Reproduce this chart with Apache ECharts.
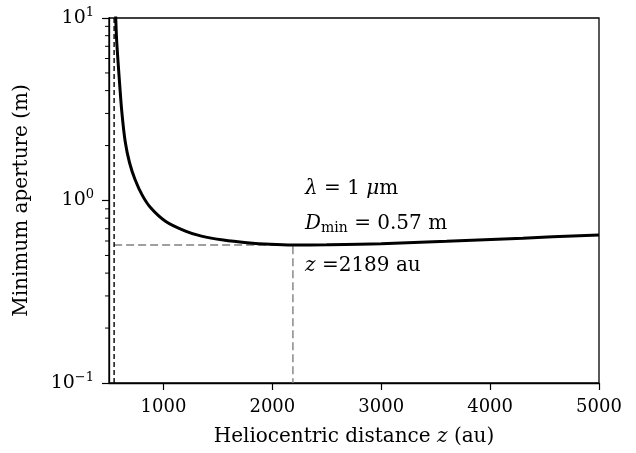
<!DOCTYPE html>
<html>
<head>
<meta charset="utf-8">
<script src="https://cdn.jsdelivr.net/npm/echarts@6/dist/echarts.min.js"></script>
<style>
  html, body { margin: 0; padding: 0; background: #fff; }
  #chart { width: 636px; height: 453px; }
</style>
</head>
<body>
<div id="chart"></div>
<script>
// heliocentric distance (au) and minimum aperture (m)
var zValues = [556, 562, 570, 581, 596, 617, 649, 690, 740, 805, 881, 1018, 1202, 1349, 1550, 1768, 1980, 2189, 2500, 3000, 3600, 4300, 5000]
var dValues = [13.0, 9.9, 7.6, 6.0, 4.5, 3.1, 2.1, 1.6, 1.3, 1.07, 0.915, 0.77, 0.68, 0.638, 0.607, 0.587, 0.575, 0.570, 0.572, 0.580, 0.598, 0.622, 0.648]

var xTickValues = [1000, 2000, 3000, 4000, 5000]
var yMinorTicks = [0.2, 0.3, 0.4, 0.5, 0.6, 0.7, 0.8, 0.9, 2, 3, 4, 5, 6, 7, 8, 9]

var focalZ = 547 // focal line of the solar lens
var optimalZ = 2189
var minAperture = 0.57

var xMin = 500, xMax = 5000, yMin = 0.1, yMax = 10

var serif = '"DejaVu Serif", "Liberation Serif", serif'
var fs = 20      // titles and notes
var tickFs = 18  // tick labels
var chart = echarts.init(document.getElementById('chart'))

function curveData() {
  var out = []
  for (var i = 0; i < zValues.length; i++) out.push([zValues[i], dValues[i]])
  return out
}

function richText(extra) {
  var r = {
    r: { fontFamily: serif, fontSize: fs, fill: '#000', color: '#000' },
    i: { fontFamily: serif, fontSize: fs, fontStyle: 'italic', fill: '#000', color: '#000' }
  }
  for (var k in extra) r[k] = extra[k]
  return r
}

chart.setOption({
  animation: false,
  textStyle: { fontFamily: serif, color: '#000' },
  grid: {
    left: 109, right: 37, top: 18, bottom: 70,
    show: true, borderColor: '#000', borderWidth: 1.3
  },
  xAxis: {
    type: 'value',
    min: xMin,
    max: xMax,
    name: '{r|Heliocentric distance }{i|z}{r| (au)}',
    nameLocation: 'middle',
    nameGap: 44,
    nameTextStyle: { rich: richText({}) },
    splitLine: { show: false },
    axisLine: { onZero: false, lineStyle: { color: '#000', width: 1.3 } },
    axisTick: { customValues: xTickValues, length: 7, lineStyle: { color: '#000', width: 1.2 } },
    axisLabel: {
      customValues: xTickValues,
      fontFamily: serif, fontSize: tickFs, color: '#000', margin: 15,
      formatter: function (v) { return String(v) }
    }
  },
  yAxis: {
    type: 'log',
    logBase: 10,
    min: yMin,
    max: yMax,
    interval: 1,
    name: 'Minimum aperture (m)',
    nameLocation: 'middle',
    nameGap: 77,
    nameTextStyle: { fontFamily: serif, fontSize: fs, color: '#000' },
    splitLine: { show: false },
    axisLine: { lineStyle: { color: '#000', width: 1.3 } },
    axisTick: { length: 7, lineStyle: { color: '#000', width: 1.2 } },
    axisLabel: {
      margin: 15,
      formatter: function (v) {
        var e = Math.round(Math.log10(v))
        return '{b|10}{s|' + (e < 0 ? '\u2212' + (-e) : e) + '}'
      },
      rich: {
        b: { fontFamily: serif, fontSize: tickFs + 1, color: '#000' },
        s: { fontFamily: serif, fontSize: 13, color: '#000', padding: [0, 0, 11, 0] }
      }
    }
  },
  graphic: [
    {
      type: 'text', left: 305, top: 179,
      style: { text: '{i|\u03bb}{r| = 1 }{i|\u03bc}{r|m}', rich: richText({}) }
    },
    {
      type: 'text', left: 305, top: 214,
      style: {
        text: '{i|D}{s|min}{r| = 0.57 m}',
        rich: richText({ s: { fontFamily: serif, fontSize: 14, fill: '#000', padding: [9, 0, 0, 0] } })
      }
    },
    {
      type: 'text', left: 305, top: 256,
      style: { text: '{i|z}{r| =2189 au}', rich: richText({}) }
    }
  ],
  series: [
    {
      // minor ticks of the log axis
      type: 'custom',
      silent: true,
      data: yMinorTicks.map(function (v) { return [xMin, v] }),
      renderItem: function (params, api) {
        var p = api.coord([api.value(0), api.value(1)])
        return {
          type: 'line',
          shape: { x1: p[0] - 4, y1: p[1], x2: p[0], y2: p[1] },
          style: { stroke: '#000', lineWidth: 1 }
        }
      }
    },
    {
      type: 'line',
      data: [[focalZ, minAperture], [optimalZ, minAperture], [optimalZ, yMin]],
      showSymbol: false,
      lineStyle: { color: '#808080', width: 1.4, type: [8, 4] }
    },
    {
      type: 'line',
      data: [[focalZ, yMin], [focalZ, yMax]],
      showSymbol: false,
      lineStyle: { color: '#000', width: 1.4, type: [5, 3] }
    },
    {
      type: 'line',
      data: curveData(),
      showSymbol: false,
      smooth: 0.35,
      lineStyle: { color: '#000', width: 3 }
    }
  ]
})
</script>
</body>
</html>
